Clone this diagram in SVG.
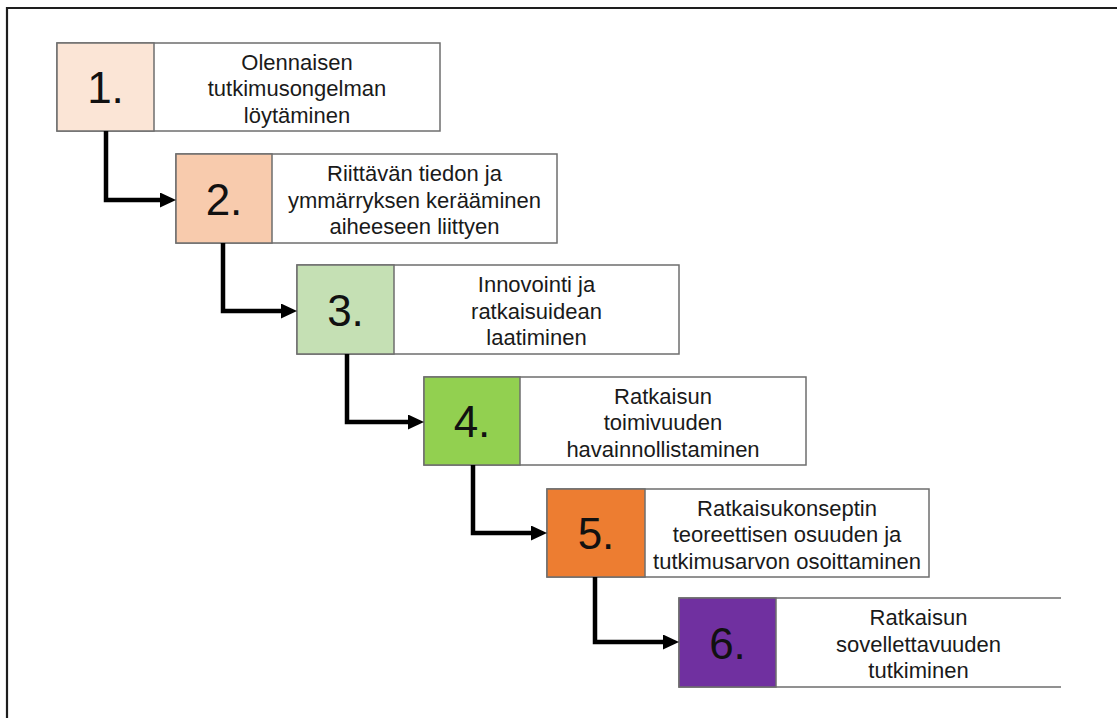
<svg xmlns="http://www.w3.org/2000/svg" width="1117" height="718" viewBox="0 0 1117 718">
<style>
.num{font-family:"Liberation Sans",Arial,sans-serif;font-size:44px;fill:#111;text-anchor:middle}
.lbl{font-family:"Liberation Sans",Arial,sans-serif;font-size:22px;fill:#1a1a1a;text-anchor:middle}
.cell{stroke:#6e6e6e;stroke-width:1.5}
.txt{fill:#fff;stroke:#6e6e6e;stroke-width:1.5}
.conn{fill:none;stroke:#000;stroke-width:4.5;stroke-linejoin:miter}
</style>
<defs>
<marker id="ah" markerUnits="userSpaceOnUse" markerWidth="17" markerHeight="16" refX="7" refY="7.5" orient="auto">
<path d="M0,0 L16,7.5 L0,15 z" fill="#000"/>
</marker>
</defs>
<rect width="1117" height="718" fill="#fff"/>
<path d="M7,718 V8 H1117" fill="none" stroke="#1e1e1e" stroke-width="2.2"/>

<g id="node1">
<rect class="txt" x="57" y="43" width="383" height="88"/>
<rect class="cell" x="57" y="43" width="97" height="88" fill="#FBE5D6"/>
<text class="num" x="105.5" y="103">1.</text>
<text class="lbl" x="297" y="69.5">Olennaisen</text>
<text class="lbl" x="297" y="96">tutkimusongelman</text>
<text class="lbl" x="297" y="122.5">löytäminen</text>
</g>

<g id="node2">
<rect class="txt" x="176" y="154" width="381" height="89"/>
<rect class="cell" x="176" y="154" width="96" height="89" fill="#F8CBAD"/>
<text class="num" x="224" y="214.5">2.</text>
<text class="lbl" x="414.5" y="181">Riittävän tiedon ja</text>
<text class="lbl" x="414.5" y="207.5">ymmärryksen kerääminen</text>
<text class="lbl" x="414.5" y="234">aiheeseen liittyen</text>
</g>

<g id="node3">
<rect class="txt" x="297" y="265" width="382" height="89"/>
<rect class="cell" x="297" y="265" width="97" height="89" fill="#C5E0B4"/>
<text class="num" x="345.5" y="325.5">3.</text>
<text class="lbl" x="536.5" y="292">Innovointi ja</text>
<text class="lbl" x="536.5" y="318.5">ratkaisuidean</text>
<text class="lbl" x="536.5" y="345">laatiminen</text>
</g>

<g id="node4">
<rect class="txt" x="424" y="377" width="382" height="88"/>
<rect class="cell" x="424" y="377" width="96" height="88" fill="#92D050"/>
<text class="num" x="472" y="437">4.</text>
<text class="lbl" x="663" y="403.5">Ratkaisun</text>
<text class="lbl" x="663" y="430">toimivuuden</text>
<text class="lbl" x="663" y="456.5">havainnollistaminen</text>
</g>

<g id="node5">
<rect class="txt" x="547" y="489" width="382" height="88"/>
<rect class="cell" x="547" y="489" width="98" height="88" fill="#ED7D31"/>
<text class="num" x="596" y="549">5.</text>
<text class="lbl" x="787" y="515.5">Ratkaisukonseptin</text>
<text class="lbl" x="787" y="542">teoreettisen osuuden ja</text>
<text class="lbl" x="787" y="568.5">tutkimusarvon osoittaminen</text>
</g>

<g id="node6">
<path d="M1061,598 H679 V687 H1061" fill="#fff" stroke="#6e6e6e" stroke-width="1.5"/>
<rect class="cell" x="679" y="598" width="97" height="89" fill="#7030A0"/>
<text class="num" x="727.5" y="658.5">6.</text>
<text class="lbl" x="918.5" y="625">Ratkaisun</text>
<text class="lbl" x="918.5" y="651.5">sovellettavuuden</text>
<text class="lbl" x="918.5" y="678">tutkiminen</text>
</g>

<g id="connectors">
<path class="conn" d="M106,131 V200 H167" marker-end="url(#ah)"/>
<path class="conn" d="M223,243 V311 H288" marker-end="url(#ah)"/>
<path class="conn" d="M347,354 V422 H415" marker-end="url(#ah)"/>
<path class="conn" d="M473,465 V533 H538" marker-end="url(#ah)"/>
<path class="conn" d="M595,577 V642 H670" marker-end="url(#ah)"/>
</g>
</svg>
